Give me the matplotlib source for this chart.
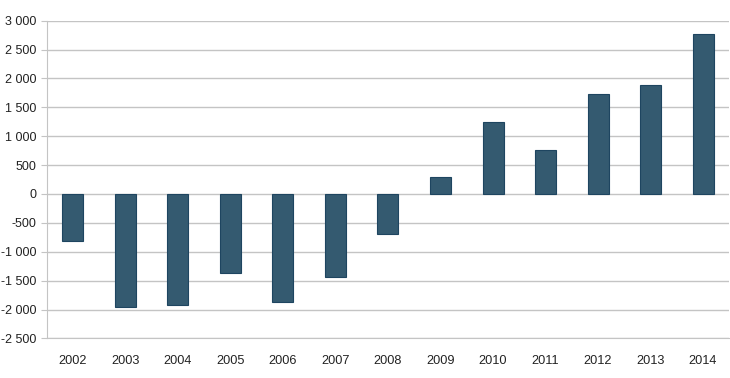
import matplotlib.pyplot as plt
from matplotlib.ticker import FuncFormatter

plt.rcParams['font.family'] = ['Liberation Sans', 'DejaVu Sans']

years = ['2002', '2003', '2004', '2005', '2006', '2007', '2008',
         '2009', '2010', '2011', '2012', '2013', '2014']
values = [-815, -1965, -1920, -1370, -1870, -1440, -690,
          300, 1250, 755, 1725, 1890, 2765]
y_ticks = list(range(-2500, 3001, 500))

fig = plt.figure(figsize=(7.3, 3.78), dpi=100)
ax = fig.add_axes([0.064, 0.1048, 0.935, 0.8404])

ax.bar(range(len(years)), values, width=0.4, color='#345a70',
       edgecolor='#1e4560', linewidth=0.8, zorder=3)

ax.set_xlim(-0.5, len(years) - 0.5)
ax.set_ylim(-2500, 3000)
ax.set_yticks(y_ticks)
ax.yaxis.set_major_formatter(FuncFormatter(lambda v, p: f'{int(v):,}'.replace(',', ' ')))
ax.set_xticks(range(len(years)))
ax.set_xticklabels(years)

ax.grid(axis='y', color='#c4c4c4', linewidth=1.0, zorder=0)
for s in ['top', 'right']:
    ax.spines[s].set_visible(False)
ax.spines['left'].set_color('#c4c4c4')
ax.spines['bottom'].set_color('#c4c4c4')
ax.tick_params(axis='y', length=4, color='#c4c4c4', pad=3.5, labelsize=9, labelcolor='#222222')
ax.tick_params(axis='x', length=0, pad=12, labelsize=9.2, labelcolor='#222222')

plt.savefig('out.png', dpi=100)
